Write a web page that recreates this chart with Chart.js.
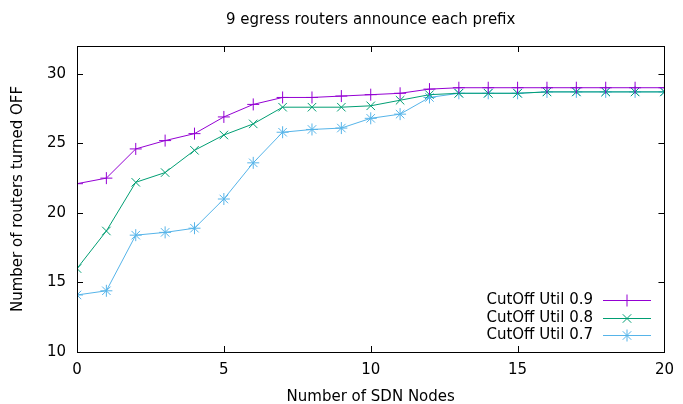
<!DOCTYPE html>
<html>
<head>
<meta charset="utf-8">
<script src="https://cdn.jsdelivr.net/npm/chart.js@4.4.1/dist/chart.umd.min.js"></script>
<style>
  html, body { margin: 0; padding: 0; background: #fff; }
  canvas { display: block; }
</style>
</head>
<body>
<canvas id="chart" width="683" height="404"></canvas>
<script>
// data
const sdnNodes = [0, 1, 2, 3, 4, 5, 6, 7, 8, 9, 10, 11, 12, 13, 14, 15, 16, 17, 18, 19, 20];
const util09 = [22.1, 22.5, 24.6, 25.2, 25.7, 26.9, 27.8, 28.3, 28.3, 28.4, 28.5, 28.6, 28.9, 29.0, 29.0, 29.0, 29.0, 29.0, 29.0, 29.0, 29.0];
const util08 = [16.0, 18.7, 22.2, 22.9, 24.5, 25.6, 26.4, 27.6, 27.6, 27.6, 27.7, 28.1, 28.5, 28.6, 28.6, 28.6, 28.7, 28.7, 28.7, 28.7, 28.7];
const util07 = [14.1, 14.4, 18.4, 18.6, 18.9, 21.0, 23.6, 25.8, 26.0, 26.1, 26.8, 27.1, 28.3, 28.6, 28.6, 28.6, 28.7, 28.7, 28.7, 28.7, 28.7];
const seriesLabels = ['CutOff Util 0.9', 'CutOff Util 0.8', 'CutOff Util 0.7'];
const xTicks = [0, 5, 10, 15, 20];
const yTicks = [10, 15, 20, 25, 30];

const FONT = 'DejaVu Sans';

function toPoints(values) {
    return sdnNodes.map((n, i) => ({ x: n, y: values[i] }));
}

function makeSet(label, values, color, style) {
    return {
        label: label,
        data: toPoints(values),
        borderColor: color,
        backgroundColor: color,
        borderWidth: 1,
        pointStyle: style,
        pointRadius: 6,
        pointBorderWidth: 1,
        pointBorderColor: color,
        tension: 0
    };
}

// gnuplot look: closed border, inward mirrored ticks, title over plot, key inside
const gnuplotFrame = {
    id: 'gnuplotFrame',
    afterDraw(chart) {
        const ctx = chart.ctx;
        const a = chart.chartArea;
        const xs = chart.scales.x;
        const ys = chart.scales.y;
        ctx.save();
        ctx.strokeStyle = '#000';
        ctx.lineWidth = 1;
        ctx.beginPath();
        xTicks.forEach(v => {
            const px = Math.round(xs.getPixelForValue(v)) + 0.5;
            ctx.moveTo(px, a.bottom); ctx.lineTo(px, a.bottom - 6);
            ctx.moveTo(px, a.top); ctx.lineTo(px, a.top + 6);
        });
        yTicks.forEach(v => {
            const py = Math.round(ys.getPixelForValue(v)) + 0.5;
            ctx.moveTo(a.left, py); ctx.lineTo(a.left + 6, py);
            ctx.moveTo(a.right, py); ctx.lineTo(a.right - 6, py);
        });
        ctx.stroke();
        ctx.strokeRect(Math.round(a.left) + 0.5, Math.round(a.top) + 0.5,
            Math.round(a.right - a.left), Math.round(a.bottom - a.top));

        // title
        ctx.fillStyle = '#000';
        ctx.font = '15px "' + FONT + '"';
        ctx.textAlign = 'center';
        ctx.textBaseline = 'middle';
        ctx.fillText('9 egress routers announce each prefix', (a.left + a.right) / 2, 20);

        // key
        chart.data.datasets.forEach((ds, i) => {
            const y = 300 + i * 17.7;
            ctx.textAlign = 'right';
            ctx.fillStyle = '#000';
            ctx.fillText(ds.label, 593, y);
            ctx.strokeStyle = ds.borderColor;
            ctx.beginPath();
            ctx.moveTo(603, Math.round(y) + 0.5);
            ctx.lineTo(651, Math.round(y) + 0.5);
            ctx.stroke();
            Chart.helpers.drawPoint(ctx, {
                pointStyle: ds.pointStyle, radius: ds.pointRadius, borderWidth: 1, rotation: 0
            }, 627, Math.round(y) + 0.5);
        });
        ctx.restore();
    }
};

const ctx = document.getElementById('chart');
new Chart(ctx, {
    type: 'line',
    data: {
        datasets: [
            makeSet(seriesLabels[0], util09, '#9400d3', 'cross'),
            makeSet(seriesLabels[1], util08, '#009e73', 'crossRot'),
            makeSet(seriesLabels[2], util07, '#56b4e9', 'star')
        ]
    },
    options: {
        responsive: false,
        animation: false,
        devicePixelRatio: 1,
        layout: { padding: { top: 46, right: 14, left: 0, bottom: 0 } },
        plugins: {
            legend: { display: false },
            title: { display: false },
            tooltip: { enabled: false }
        },
        scales: {
            x: {
                type: 'linear',
                min: 0,
                max: 20,
                afterFit: s => { s.height = 52; },
                afterBuildTicks: s => { s.ticks = xTicks.map(v => ({ value: v })); },
                grid: { display: false, drawTicks: false },
                border: { display: false },
                ticks: { color: '#000', padding: 9, maxRotation: 0, font: { family: FONT, size: 15 } },
                title: {
                    display: true, text: 'Number of SDN Nodes', color: '#000',
                    padding: { top: 0, bottom: -2 }, font: { family: FONT, size: 15 }
                }
            },
            y: {
                type: 'linear',
                min: 10,
                max: 32,
                afterFit: s => { s.width = 77; },
                afterBuildTicks: s => { s.ticks = yTicks.map(v => ({ value: v })); },
                grid: { display: false, drawTicks: false },
                border: { display: false },
                ticks: { color: '#000', padding: 11, font: { family: FONT, size: 15 } },
                title: {
                    display: true, text: 'Number of routers turned OFF', color: '#000',
                    padding: { top: 9, bottom: 0 }, font: { family: FONT, size: 15 }
                }
            }
        }
    },
    plugins: [gnuplotFrame]
});
</script>
</body>
</html>
